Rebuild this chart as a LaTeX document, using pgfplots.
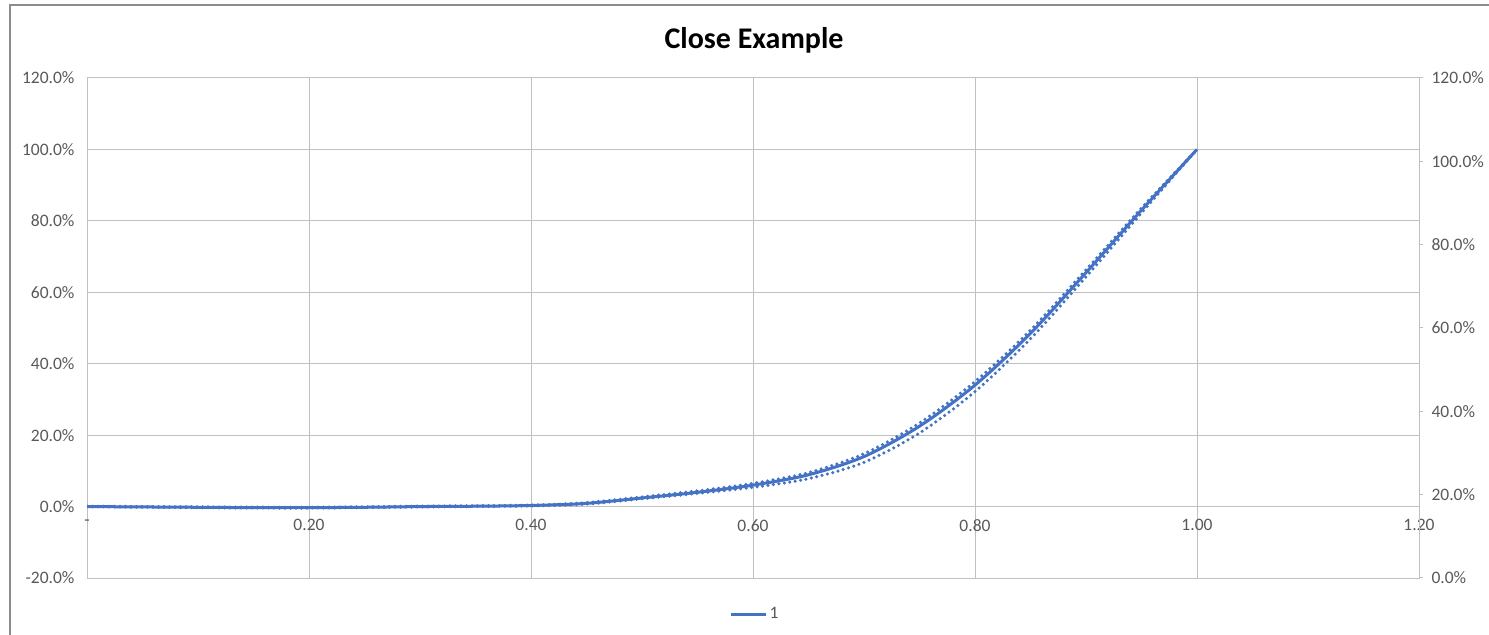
\documentclass[border=0pt]{standalone}
\usepackage{fontspec}
\setmainfont{Carlito}
\usepackage{pgfplots}
\pgfplotsset{compat=1.18}
\definecolor{excelblue}{RGB}{68,114,196}
\definecolor{gridgray}{RGB}{192,192,192}
\definecolor{labelgray}{RGB}{89,89,89}
\definecolor{framegray}{RGB}{140,140,140}

\pgfplotsset{
  chartbox/.style={
    at={(87bp,57bp)}, anchor=south west,
    scale only axis, width=1332bp, height=500bp,
    xmin=0, xmax=1.2,
  },
  ticktext/.style={font=\fontsize{17.5bp}{21bp}\selectfont, text=labelgray},
}

\begin{document}
\begin{tikzpicture}
\useasboundingbox (0bp,0bp) rectangle (1489bp,635bp);
% chart frame
\draw[framegray, line width=2bp] (10bp,-2bp) -- (10bp,630bp) -- (1492bp,630bp);
% title
\node[anchor=base, font=\bfseries\fontsize{30bp}{36bp}\selectfont] at (754bp,586bp) {Close Example};

\begin{axis}[
  chartbox,
  ymin=-20, ymax=120,
  xtick={0,0.2,0.4,0.6,0.8,1.0,1.2},
  xticklabels={-,0.20,0.40,0.60,0.80,1.00,1.20},
  ytick={-20,0,20,40,60,80,100,120},
  yticklabels={-20.0\%,0.0\%,20.0\%,40.0\%,60.0\%,80.0\%,100.0\%,120.0\%},
  grid=major, major grid style={gridgray, line width=1bp},
  axis line style={gridgray, line width=1bp},
  tick style={draw=none},
  xticklabel style={ticktext, yshift=62bp},
  yticklabel style={ticktext, xshift=-9bp},
  legend style={at={(0.5015,-0.072)}, anchor=center, draw=none, fill=none, ticktext},
  legend image code/.code={\draw[#1] (0bp,0bp) -- (35bp,0bp);},
  dots/.style={excelblue, line width=3.5bp, line cap=round,
    dash pattern=on 0bp off 5.5bp, smooth, forget plot},
]
% dotted companion series
\addplot[dots] coordinates {
(0.00,0.0) (0.10,-0.3) (0.20,-0.4) (0.30,-0.1) (0.40,0.2) (0.45,0.7)
(0.50,2.2) (0.55,3.7) (0.60,5.4) (0.65,7.8) (0.70,12.4) (0.75,20.6)
(0.80,32.2) (0.85,47.0) (0.90,64.3) (0.95,82.2) (1.00,100.0)};
\addplot[dots] coordinates {
(0.00,0.1) (0.10,-0.1) (0.20,-0.2) (0.30,0.1) (0.40,0.4) (0.45,1.1)
(0.50,2.7) (0.55,4.4) (0.60,6.5) (0.65,9.5) (0.70,14.8) (0.75,23.4)
(0.80,35.0) (0.85,49.4) (0.90,66.3) (0.95,83.6) (1.00,100.0)};
% main series
\addplot[excelblue, line width=3bp, smooth] coordinates {
(0.00,0.0) (0.05,-0.1) (0.10,-0.2) (0.15,-0.3) (0.20,-0.3) (0.25,-0.2)
(0.30,0.0) (0.35,0.1) (0.40,0.3) (0.45,0.9) (0.50,2.4) (0.55,4.0)
(0.60,6.0) (0.65,8.9) (0.70,14.0) (0.75,22.5) (0.80,34.0) (0.85,48.5)
(0.90,65.5) (0.95,83.0) (1.00,100.0)};
\addlegendentry{1}
\end{axis}

% secondary value axis on the right
\begin{axis}[
  chartbox,
  ymin=0, ymax=120,
  axis x line=none, axis y line*=right,
  y axis line style={gridgray, line width=1bp, -},
  ytick={0,20,40,60,80,100,120},
  yticklabels={0.0\%,20.0\%,40.0\%,60.0\%,80.0\%,100.0\%,120.0\%},
  ytick style={gridgray, line width=1bp},
  tick align=outside, major tick length=4bp,
  yticklabel style={ticktext, xshift=5bp},
]
\addplot[draw=none] coordinates {(0,0) (1.2,120)};
\end{axis}
\end{tikzpicture}
\end{document}
